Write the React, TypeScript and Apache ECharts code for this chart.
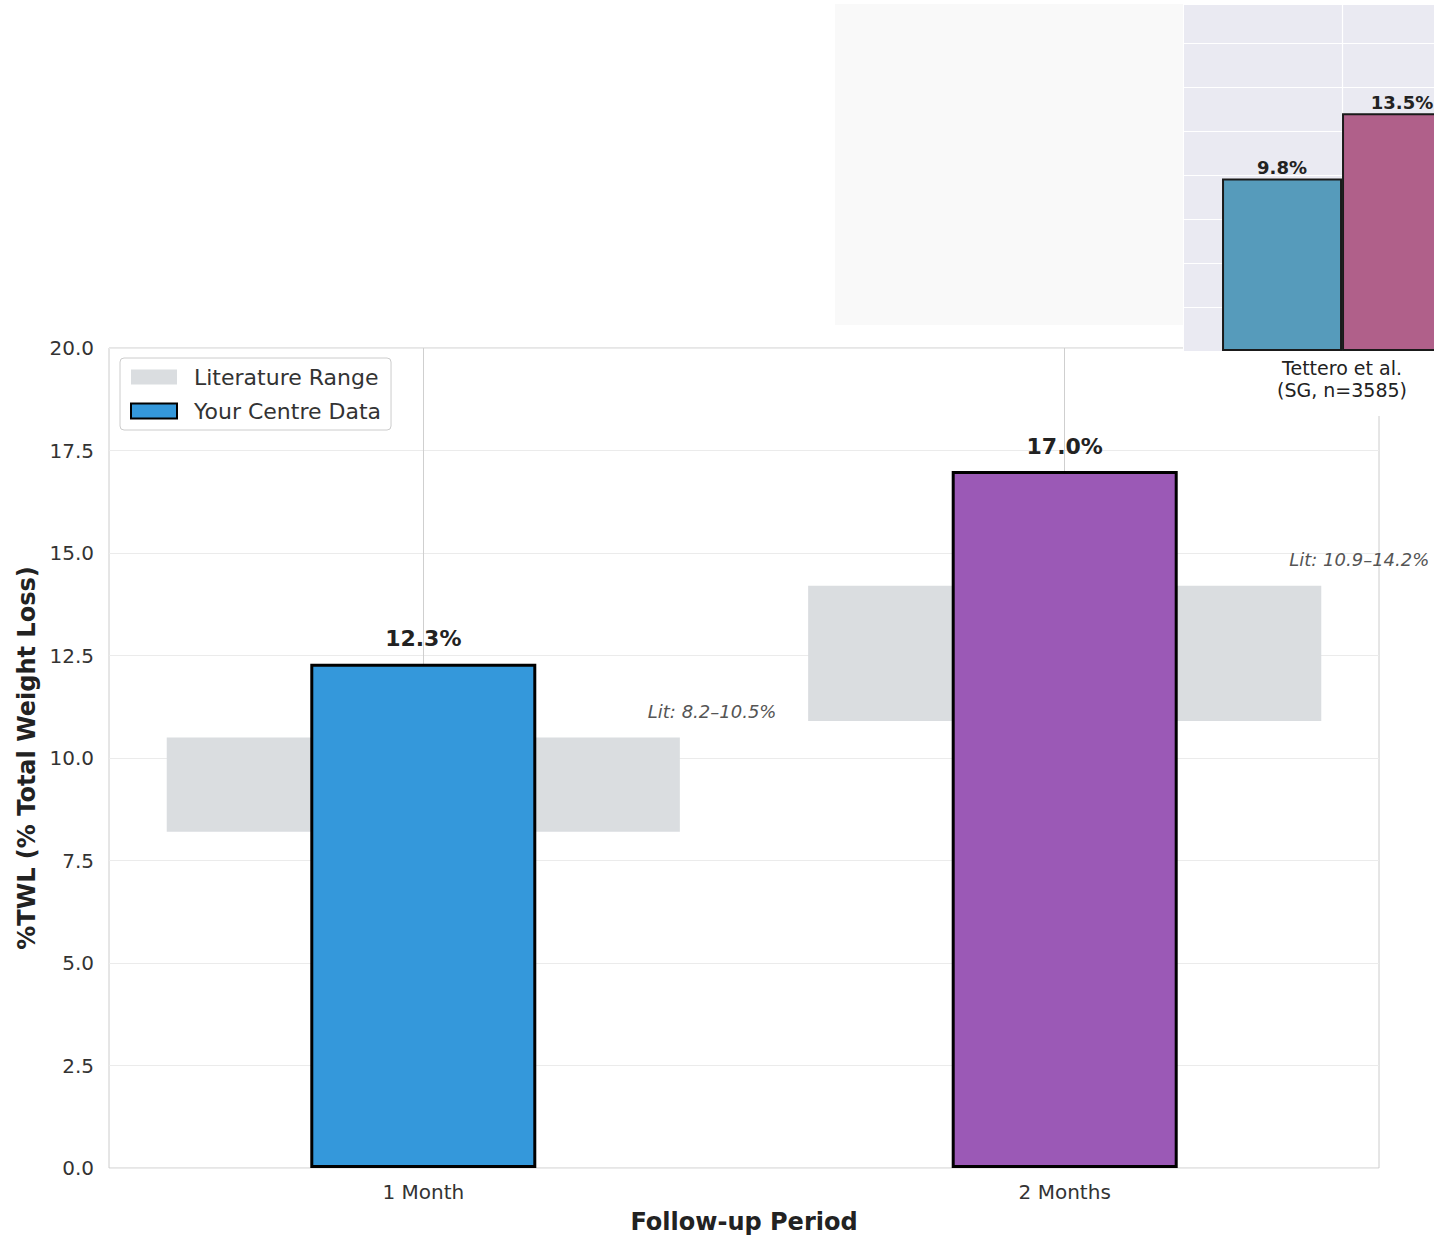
import React, { useEffect, useRef } from 'react';
import * as echarts from 'echarts';

const categories = ['1 Month', '2 Months'];
const centreValues = [12.3, 17.0];
const centreColors = ['#3498db', '#9b59b6'];
const litLow = [8.2, 10.9];
const litHigh = [10.5, 14.2];
const yMin = 0;
const yMax = 20;
const yStep = 2.5;

const insetCategories = ['Tettero et al.\n(SG, n=3585)'];
const insetBlue = [9.8];
const insetPink = [13.5];

const FONT = 'DejaVu Sans';

export default function App() {
  const ref = useRef<HTMLDivElement>(null);
  useEffect(() => {
    if (!ref.current) return;
    const chart = echarts.init(ref.current, undefined, { renderer: 'svg' });
    const option: any = {
      animation: false,
      backgroundColor: '#ffffff',
      textStyle: { fontFamily: FONT },
      grid: [
        { left: 109, top: 348, width: 1270, height: 820, show: true, borderColor: '#cccccc', borderWidth: 1, backgroundColor: 'transparent' },
        { left: 1184, top: 4, width: 250, height: 347 },
      ],
      legend: {
        left: 120,
        top: 358,
        orient: 'vertical',
        data: ['Literature Range', 'Your Centre Data'],
        icon: 'rect',
        itemWidth: 46,
        itemHeight: 15,
        itemGap: 12,
        padding: [8, 10, 8, 10],
        backgroundColor: 'rgba(255,255,255,0.9)',
        borderColor: '#cccccc',
        borderWidth: 1,
        borderRadius: 4,
        textStyle: { fontSize: 22, color: '#333333', fontFamily: FONT, padding: [0, 0, 0, 12] },
      },
      xAxis: [
        {
          type: 'value',
          gridIndex: 0,
          min: -0.49,
          max: 1.49,
          axisLine: { show: false },
          axisTick: { show: false },
          splitLine: { show: false },
          axisLabel: {
            customValues: categories.map((_, i) => i),
            formatter: (v: number) => categories[Math.round(v)] ?? '',
            fontSize: 20,
            color: '#333333',
            margin: 14,
            fontFamily: FONT,
          },
          name: 'Follow-up Period',
          nameLocation: 'middle',
          nameGap: 42,
          nameTextStyle: { fontSize: 24, fontWeight: 'bold', color: '#222222', fontFamily: FONT },
        },
        {
          type: 'value',
          gridIndex: 1,
          min: -0.5,
          max: 0.291,
          axisLine: { show: false },
          axisTick: { show: false },
          splitLine: { show: false },
          axisLabel: {
            customValues: insetCategories.map((_, i) => i),
            formatter: (v: number) => insetCategories[Math.round(v)] ?? '',
            fontSize: 19,
            lineHeight: 22,
            color: '#222222',
            margin: 6,
            fontFamily: FONT,
          },
          z: 12,
        },
      ],
      yAxis: [
        {
          type: 'value',
          gridIndex: 0,
          min: yMin,
          max: yMax,
          interval: yStep,
          axisLine: { show: false },
          axisTick: { show: false },
          splitLine: { lineStyle: { color: '#ebebeb', width: 1 } },
          axisLabel: { formatter: (v: number) => v.toFixed(1), fontSize: 20, color: '#333333', margin: 15, fontFamily: FONT },
          name: '%TWL (% Total Weight Loss)',
          nameLocation: 'middle',
          nameGap: 64,
          nameTextStyle: { fontSize: 24, fontWeight: 'bold', color: '#222222', fontFamily: FONT },
        },
        {
          type: 'value',
          gridIndex: 1,
          min: 0,
          max: 19.7,
          interval: 2.5,
          axisLine: { show: false },
          axisTick: { show: false },
          axisLabel: { show: false },
          splitLine: { lineStyle: { color: '#ffffff', width: 1.2 } },
          z: 12,
        },
      ],
      graphic: {
        elements: [
          { type: 'rect', z: 10, silent: true, shape: { x: 1183, y: 0, width: 251, height: 416 }, style: { fill: '#ffffff' } },
          { type: 'rect', z: 10, silent: true, shape: { x: 835, y: 4, width: 348, height: 321 }, style: { fill: '#f9f9f9' } },
          { type: 'rect', z: 11, silent: true, shape: { x: 1184, y: 4, width: 250, height: 348 }, style: { fill: '#eaeaf2' } },
        ],
      },
      series: [
        {
          name: 'Literature Range',
          type: 'custom',
          xAxisIndex: 0,
          yAxisIndex: 0,
          itemStyle: { color: '#dadde0' },
          encode: { x: 0, y: [1, 2] },
          data: categories.map((_, i) => [i, litLow[i], litHigh[i]]),
          renderItem: (params: any, api: any) => {
            const x = api.value(0);
            const lo = api.value(1);
            const hi = api.value(2);
            const pHi = api.coord([x, hi]);
            const pLo = api.coord([x, lo]);
            const w = api.size([0.8, 0])[0];
            const off = api.size([0.35, 0])[0];
            return {
              type: 'group',
              children: [
                {
                  type: 'rect',
                  shape: { x: pHi[0] - w / 2, y: pHi[1], width: w, height: pLo[1] - pHi[1] },
                  style: { fill: '#dadde0' },
                },
                {
                  type: 'text',
                  x: pHi[0] + off,
                  y: pHi[1] - 26,
                  style: {
                    text: `Lit: ${lo.toFixed(1)}–${hi.toFixed(1)}%`,
                    fill: '#555555',
                    font: `italic 18px "${FONT}"`,
                    align: 'left',
                    verticalAlign: 'middle',
                  },
                },
              ],
            };
          },
          z: 2,
        },
        {
          name: 'Your Centre Data',
          type: 'bar',
          xAxisIndex: 0,
          yAxisIndex: 0,
          barWidth: 226,
          itemStyle: { color: centreColors[0], borderColor: '#000000', borderWidth: 3 },
          data: categories.map((_, i) => ({ value: [i, centreValues[i]], itemStyle: { color: centreColors[i] } })),
          label: {
            show: true,
            position: 'top',
            distance: 14,
            fontSize: 22,
            fontWeight: 'bold',
            color: '#222222',
            fontFamily: FONT,
            formatter: (p: any) => `${p.value[1].toFixed(1)}%`,
          },
          markLine: {
            silent: true,
            symbol: 'none',
            z: 1,
            label: { show: false },
            lineStyle: { color: '#cfcfcf', width: 1, type: 'solid' },
            data: categories.map((_, i) => ({ xAxis: i })),
          },
          z: 3,
        },
        {
          name: 'insetGrid',
          type: 'line',
          xAxisIndex: 1,
          yAxisIndex: 1,
          data: [],
          markLine: {
            silent: true,
            symbol: 'none',
            z: 12,
            label: { show: false },
            lineStyle: { color: '#ffffff', width: 1.2, type: 'solid' },
            data: insetCategories.map((_, i) => ({ xAxis: i })),
          },
          z: 12,
        },
        {
          name: 'Inset A',
          type: 'bar',
          xAxisIndex: 1,
          yAxisIndex: 1,
          barWidth: 120,
          barGap: '0%',
          itemStyle: { color: '#569bbb', borderColor: '#1a1a1a', borderWidth: 2 },
          data: insetBlue.map((v, i) => [i, v]),
          label: {
            show: true,
            position: 'top',
            distance: 2,
            fontSize: 18,
            fontWeight: 'bold',
            color: '#222222',
            fontFamily: FONT,
            formatter: (p: any) => `${Number(p.value[1]).toFixed(1)}%`,
          },
          z: 13,
        },
        {
          name: 'Inset B',
          type: 'bar',
          xAxisIndex: 1,
          yAxisIndex: 1,
          barWidth: 120,
          barGap: '0%',
          itemStyle: { color: '#b0608a', borderColor: '#1a1a1a', borderWidth: 2 },
          data: insetPink.map((v, i) => [i, v]),
          label: {
            show: true,
            position: 'top',
            distance: 2,
            fontSize: 18,
            fontWeight: 'bold',
            color: '#222222',
            fontFamily: FONT,
            formatter: (p: any) => `${Number(p.value[1]).toFixed(1)}%`,
          },
          z: 13,
        },
      ],
    };
    chart.setOption(option);
    return () => chart.dispose();
  }, []);
  return (
    <div
      ref={ref}
      style={{ position: 'fixed', left: 0, top: 0, width: 1434, height: 1239, background: '#ffffff' }}
    />
  );
}
